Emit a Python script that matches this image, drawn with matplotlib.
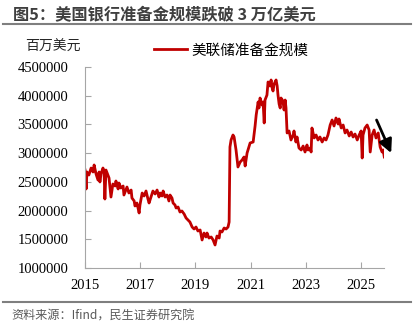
import matplotlib
matplotlib.use('Agg')
import matplotlib.pyplot as plt
from matplotlib.lines import Line2D

plt.rcParams['font.family'] = ['Noto Sans CJK SC', 'DejaVu Sans']

# 美联储准备金规模（百万美元），按年份小数读取
years = [2015.00, 2015.04, 2015.07, 2015.14, 2015.22, 2015.29, 2015.33, 2015.40, 2015.47, 2015.51,
         2015.54, 2015.58, 2015.65, 2015.69, 2015.72, 2015.76, 2015.80, 2015.87, 2015.94, 2016.01,
         2016.09, 2016.12, 2016.20, 2016.23, 2016.30, 2016.38, 2016.41, 2016.49, 2016.52, 2016.59,
         2016.67, 2016.70, 2016.78, 2016.81, 2016.88, 2016.96, 2016.99, 2017.07, 2017.14, 2017.21,
         2017.28, 2017.32, 2017.39, 2017.46, 2017.54, 2017.61, 2017.68, 2017.72, 2017.79, 2017.83,
         2017.90, 2017.97, 2018.04, 2018.08, 2018.15, 2018.19, 2018.26, 2018.30, 2018.37, 2018.44,
         2018.51, 2018.59, 2018.66, 2018.73, 2018.80, 2018.88, 2018.95, 2019.02, 2019.09, 2019.17,
         2019.24, 2019.31, 2019.38, 2019.42, 2019.49, 2019.57, 2019.64, 2019.71, 2019.78, 2019.86,
         2019.89, 2019.96, 2020.04, 2020.11, 2020.18, 2020.22, 2020.25, 2020.29, 2020.36, 2020.40,
         2020.47, 2020.54, 2020.62, 2020.69, 2020.76, 2020.80, 2020.87, 2020.98, 2021.09, 2021.16,
         2021.20, 2021.27, 2021.30, 2021.34, 2021.41, 2021.45, 2021.49, 2021.52, 2021.59, 2021.63,
         2021.70, 2021.74, 2021.78, 2021.81, 2021.85, 2021.92, 2021.96, 2021.99, 2022.03, 2022.07,
         2022.10, 2022.17, 2022.21, 2022.25, 2022.28, 2022.32, 2022.39, 2022.46, 2022.54, 2022.57,
         2022.64, 2022.68, 2022.75, 2022.83, 2022.90, 2022.97, 2023.04, 2023.08, 2023.15, 2023.19,
         2023.22, 2023.30, 2023.37, 2023.44, 2023.51, 2023.59, 2023.66, 2023.73, 2023.80, 2023.88,
         2023.95, 2024.02, 2024.09, 2024.17, 2024.20, 2024.28, 2024.35, 2024.42, 2024.49, 2024.57,
         2024.64, 2024.71, 2024.78, 2024.86, 2024.93, 2025.00, 2025.04, 2025.07, 2025.14, 2025.22,
         2025.29, 2025.33, 2025.40, 2025.47, 2025.54, 2025.62, 2025.69, 2025.76, 2025.80, 2025.84]

reserves = [2706000, 2376000, 2672000, 2619000, 2741000, 2672000, 2794000, 2637000, 2532000, 2672000,
            2498000, 2637000, 2741000, 2689000, 2201000, 2706000, 2654000, 2567000, 2236000, 2463000,
            2428000, 2515000, 2376000, 2480000, 2393000, 2428000, 2271000, 2376000, 2410000, 2306000,
            2358000, 2219000, 2167000, 2080000, 2132000, 1958000, 2097000, 2306000, 2254000, 2341000,
            2201000, 2132000, 2236000, 2341000, 2289000, 2358000, 2236000, 2306000, 2254000, 2341000,
            2236000, 2271000, 2167000, 2271000, 2219000, 2132000, 2097000, 2045000, 2062000, 1975000,
            1993000, 1940000, 1871000, 1836000, 1801000, 1714000, 1679000, 1714000, 1644000, 1662000,
            1488000, 1609000, 1540000, 1609000, 1522000, 1540000, 1488000, 1401000, 1557000, 1522000,
            1644000, 1627000, 1697000, 1679000, 1714000, 1801000, 3107000, 3229000, 3316000, 3281000,
            3055000, 2759000, 2846000, 2881000, 2933000, 2776000, 3002000, 3177000, 3194000, 3473000,
            3664000, 3891000, 3786000, 3960000, 3838000, 3891000, 3525000, 3925000, 4012000, 4239000,
            4169000, 4274000, 4134000, 4082000, 4204000, 4274000, 4169000, 4012000, 3856000, 3786000,
            3960000, 3908000, 3751000, 3925000, 3786000, 3351000, 3386000, 3229000, 3316000, 3386000,
            3194000, 3281000, 3090000, 3055000, 3124000, 3020000, 3142000, 3055000, 3090000, 3020000,
            3438000, 3264000, 3316000, 3229000, 3281000, 3194000, 3264000, 3229000, 3316000, 3490000,
            3577000, 3473000, 3612000, 3507000, 3595000, 3438000, 3490000, 3351000, 3403000, 3299000,
            3368000, 3281000, 3333000, 3229000, 3316000, 3386000, 2915000, 3316000, 3438000, 3490000,
            3403000, 3020000, 3316000, 3403000, 3264000, 3351000, 3107000, 3020000, 3055000, 2933000]

x_ticks = [2015, 2017, 2019, 2021, 2023, 2025]
y_ticks = [1000000, 1500000, 2000000, 2500000, 3000000, 3500000, 4000000, 4500000]

fig = plt.figure(figsize=(4.19, 3.31), dpi=100)
ax = fig.add_axes([0.2029, 0.1903, 0.7136, 0.6073])

red = '#C00000'
ax.plot(years, reserves, color=red, lw=2.0)

ax.set_xlim(2015, 2025.83)
ax.set_ylim(1000000, 4500000)
ax.set_xticks(x_ticks)
ax.set_yticks(y_ticks)
ax.set_xticklabels([str(t) for t in x_ticks])
ax.set_yticklabels([str(t) for t in y_ticks])
for lab in ax.get_xticklabels() + ax.get_yticklabels():
    lab.set_family('Liberation Serif')
    lab.set_fontsize(10.5)
ax.tick_params(axis='both', direction='in', length=4, color='#a6a6a6', width=0.8)
ax.tick_params(axis='y', pad=12)
ax.tick_params(axis='x', pad=8)
for s in ['top', 'right']:
    ax.spines[s].set_visible(False)
for s in ['left', 'bottom']:
    ax.spines[s].set_color('#a6a6a6')
    ax.spines[s].set_linewidth(0.8)

# 下跌箭头
ax.annotate('', xy=(2026.09, 3002000), xytext=(2025.56, 3577000),
            annotation_clip=False,
            arrowprops=dict(arrowstyle='-|>', color='black', lw=2.0, mutation_scale=20,
                            shrinkA=0, shrinkB=0))

# 标题与框线
fig.text(0.031, 0.955, '图5：美国银行准备金规模跌破 3 万亿美元', fontsize=11.7, fontweight='bold',
         color='#3f3f3f', va='center', ha='left')
fig.add_artist(Line2D([0.007, 0.98], [0.927, 0.927], color='#7f7f7f', lw=1.5))
fig.add_artist(Line2D([0.007, 0.98], [0.088, 0.088], color='#7f7f7f', lw=1.5))
fig.text(0.028, 0.045, '资料来源：Ifind，民生证券研究院', fontsize=8.7, color='#595959',
         va='center', ha='left')

fig.text(0.06, 0.858, '百万美元', fontsize=10, color='#262626', va='center', ha='left')
fig.legend(handles=[Line2D([], [], color=red, lw=2.0)], labels=['美联储准备金规模'],
           loc='center left', bbox_to_anchor=(0.35, 0.848), frameon=False, fontsize=10.5,
           handlelength=2.3, handletextpad=0.3, borderpad=0)

fig.savefig('out.png', dpi=100)
